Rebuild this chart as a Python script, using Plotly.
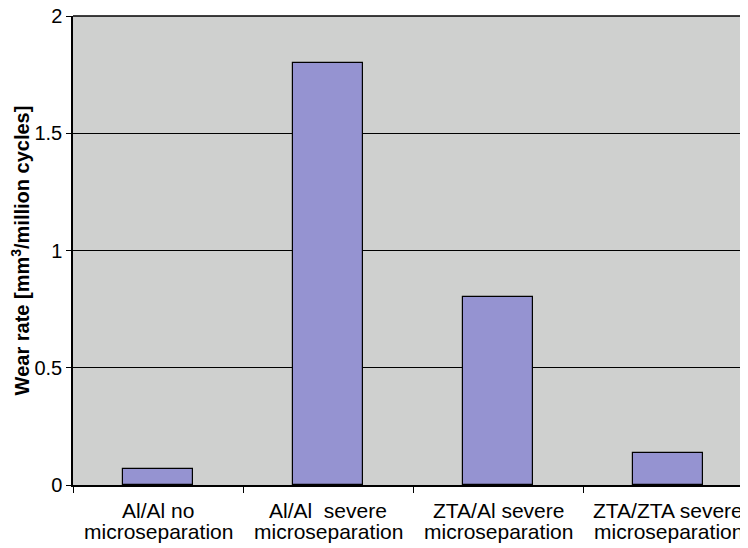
import plotly.graph_objects as go

categories = [
    "Al/Al no microseparation",
    "Al/Al  severe microseparation",
    "ZTA/Al severe microseparation",
    "ZTA/ZTA severe microseparation",
]
label_line1 = ["Al/Al no", "Al/Al  severe", "ZTA/Al severe", "ZTA/ZTA severe"]
label_line2 = ["microseparation", "microseparation", "microseparation", "microseparation"]
wear_rate = [0.07, 1.8, 0.8, 0.135]
y_ticks = [0, 0.5, 1, 1.5, 2]
y_tick_text = ["0", "0.5", "1", "1.5", "2"]

FONT = "Liberation Sans, Arial, Helvetica, sans-serif"

fig = go.Figure()
fig.add_trace(go.Bar(
    x=categories,
    y=wear_rate,
    width=0.41,
    marker=dict(color="#9593D1", line=dict(color="black", width=1.2)),
))

# page body adds an 8px offset; figure sized to fit the 748x548 window
fig.update_layout(
    width=740,
    height=540,
    margin=dict(l=65, r=0, t=8, b=63),
    paper_bgcolor="white",
    plot_bgcolor="#CFD0CF",
    showlegend=False,
    font=dict(family=FONT, size=20, color="black"),
    bargap=0,
)

fig.update_xaxes(
    type="category",
    range=[-0.5, 3.47],
    showgrid=False,
    showline=True,
    linecolor="black",
    linewidth=1.5,
    ticks="outside",
    tickson="boundaries",
    ticklen=6,
    tickcolor="black",
    showticklabels=False,
    automargin=False,
)

fig.update_yaxes(
    range=[0, 2],
    tickvals=y_ticks,
    ticktext=y_tick_text,
    showgrid=True,
    gridcolor="black",
    gridwidth=1,
    zeroline=False,
    showline=True,
    linecolor="black",
    linewidth=1.5,
    ticks="outside",
    ticklen=5,
    tickcolor="black",
    tickfont=dict(family=FONT, size=20, color="black"),
    ticklabeloverflow="allow",
    automargin=False,
    title=dict(
        text="<b>Wear rate [mm<sup>3</sup>/million cycles]</b>",
        font=dict(family=FONT, size=20, color="black"),
        standoff=13,
    ),
)

for cat, l1, l2 in zip(categories, label_line1, label_line2):
    fig.add_annotation(x=cat, y=0, xref="x", yref="y", text=l1, showarrow=False,
                       yanchor="middle", yshift=-25,
                       font=dict(family=FONT, size=21, color="black"))
    fig.add_annotation(x=cat, y=0, xref="x", yref="y", text=l2, showarrow=False,
                       yanchor="middle", yshift=-46,
                       font=dict(family=FONT, size=21, color="black"))

fig.add_shape(type="line", xref="paper", yref="paper", x0=0, x1=1, y0=1, y1=1,
              line=dict(color="black", width=1.5))

fig.write_html("out.html")
